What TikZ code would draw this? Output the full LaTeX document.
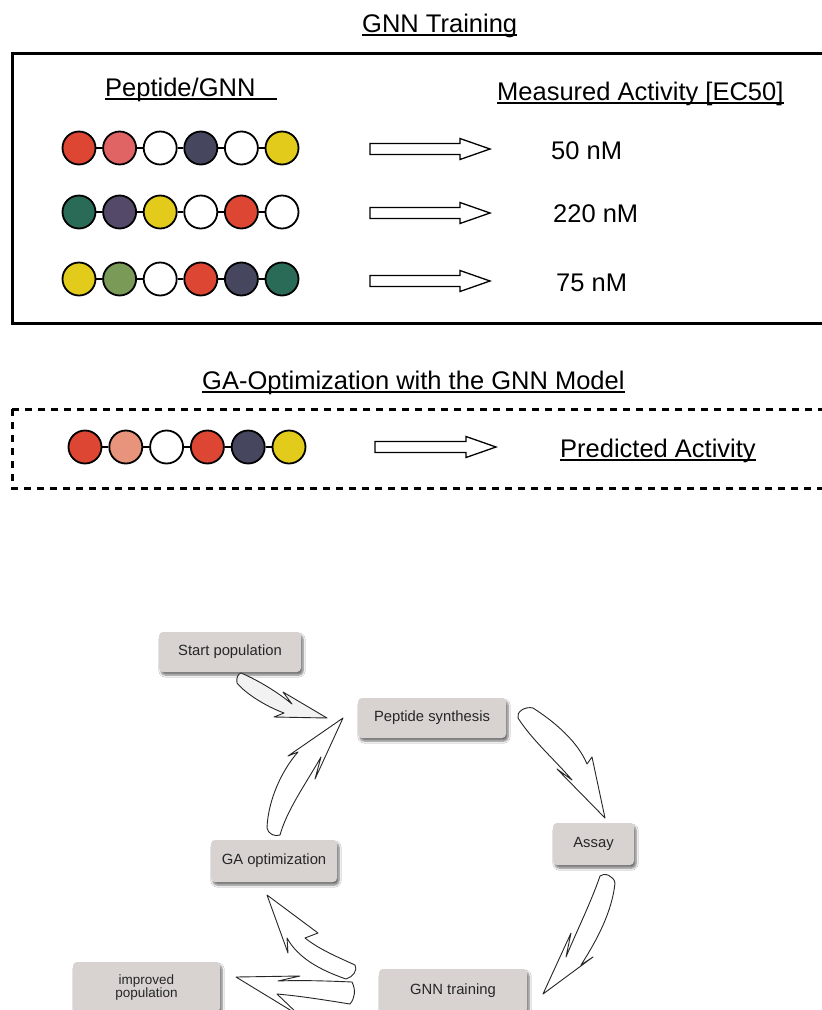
\documentclass[tikz,border=0pt]{standalone}
\usepackage{fontspec}
\setmainfont{Liberation Sans}
\usetikzlibrary{shadows.blur}
\definecolor{cred}{HTML}{DC4633}
\definecolor{cpink}{HTML}{E06464}
\definecolor{cnavy}{HTML}{46475F}
\definecolor{cyel}{HTML}{E3CB1C}
\definecolor{cteal}{HTML}{2A6B58}
\definecolor{cpurp}{HTML}{55496A}
\definecolor{colive}{HTML}{7A9A58}
\definecolor{csalm}{HTML}{E8937B}
\definecolor{boxgray}{RGB}{216,211,209}
\begin{document}
\begin{tikzpicture}[x=1pt,y=-1pt,
  ttl/.style={font=\fontsize{25.5}{30}\selectfont, inner sep=0pt, anchor=base west},
  uline/.style={line width=1.4pt},
  bead/.style={circle, draw=black, line width=1.8pt, minimum size=33pt, inner sep=0pt},
  link/.style={line width=1.6pt},
  blockarrow/.style={draw=black, line width=1.3pt, fill=white, line join=miter},
  pbox/.style={fill=boxgray, rounded corners=4pt, inner sep=0pt, text=black!85,
    font=\fontsize{14.8}{16}\selectfont, align=center,
    blur shadow={shadow xshift=2pt, shadow yshift=-3pt, shadow blur steps=6, shadow opacity=55}},
  carrow/.style={draw=black!85, line width=0.9pt, fill=white, line join=round}]
\useasboundingbox (0,0) rectangle (822,1010);
\clip (0,0) rectangle (822,1010);
\fill[white] (0,0) rectangle (822,1010);

% ---------- GNN Training ----------
\node[ttl] (t1) at (362,32) {GNN Training};
\draw[uline] ([yshift=-3pt]t1.base west) -- ([yshift=-3pt]t1.base east);
\draw[line width=3pt] (12,53) rectangle (840,323);

\node[ttl] (p) at (105,96) {Peptide/GNN};
\draw[uline] ([yshift=-3pt]p.base west) -- ([xshift=21pt,yshift=-3pt]p.base east);
\node[ttl] (m) at (497,100) {Measured Activity [EC50]};
\draw[uline] ([yshift=-3pt]m.base west) -- ([yshift=-3pt]m.base east);

% beads
\foreach \c [count=\i] in {cred,cpink,white,cnavy,white,cyel}
  \node[bead, fill=\c] (a\i) at ({79+(\i-1)*40.6},148) {};
\foreach \c [count=\i] in {cteal,cpurp,cyel,white,cred,white}
  \node[bead, fill=\c] (b\i) at ({79+(\i-1)*40.6},212) {};
\foreach \c [count=\i] in {cyel,colive,white,cred,cnavy,cteal}
  \node[bead, fill=\c] (c\i) at ({79+(\i-1)*40.6},279) {};
\foreach \c [count=\i] in {cred,csalm,white,cred,cnavy,cyel}
  \node[bead, fill=\c] (d\i) at ({85+(\i-1)*40.8},447) {};
\foreach \i [evaluate=\i as \j using int(\i+1)] in {1,...,5} {
  \draw[link] (a\i) -- (a\j);
  \draw[link] (b\i) -- (b\j);
  \draw[link] (c\i) -- (c\j);
  \draw[link] (d\i) -- (d\j);
}

% block arrows
\foreach \yy in {149,213,281}
  \draw[blockarrow, shift={(370,\yy)}] (0,-5.5) -- (90,-5.5) -- (90,-10.5) -- (120,0) -- (90,10.5) -- (90,5.5) -- (0,5.5) -- cycle;
\draw[blockarrow, shift={(375,447)}] (0,-5.5) -- (91,-5.5) -- (91,-10.5) -- (121,0) -- (91,10.5) -- (91,5.5) -- (0,5.5) -- cycle;

\node[ttl] (v1) at (551,159) {50 nM};
\node[ttl] (v2) at (553,222) {220 nM};
\node[ttl] (v3) at (556,291) {75 nM};

% ---------- GA optimization ----------
\node[ttl] (t2) at (202,389) {GA-Optimization with the GNN Model};
\draw[uline] ([yshift=-3pt]t2.base west) -- ([yshift=-3pt]t2.base east);
\draw[line width=3pt, dash pattern=on 7pt off 6pt] (12,409) rectangle (840,488);
\node[ttl] (pa) at (560,457) {Predicted Activity};
\draw[uline] ([yshift=-3pt]pa.base west) -- ([yshift=-3pt]pa.base east);

% ---------- cycle ----------
\node[pbox, minimum width=142pt, minimum height=40pt] (sp) at (230,652) {Start population};
\node[pbox, minimum width=148pt, minimum height=40pt] (ps) at (432,718) {Peptide synthesis};
\node[pbox, minimum width=81pt, minimum height=42pt] (as) at (593.5,844) {Assay};
\node[pbox, minimum width=126pt, minimum height=42pt] (ga) at (274,861) {GA optimization};
\node[pbox, minimum width=147pt, minimum height=50pt, font=\fontsize{13.5}{13}\selectfont] (ip) at (146.5,987) {improved\\population};
\node[pbox, minimum width=148pt, minimum height=44pt] (gt) at (453,991) {GNN training};

% Start -> Peptide
\draw[carrow, fill=black!5] (241,673) .. controls (260,681) and (280,694) .. (292,704) -- (283,692) -- (327,718) -- (274,717) -- (284,713) .. controls (265,706) and (245,693) .. (237,683) .. controls (236,678) and (238,674) .. cycle;
% GA -> Peptide
\draw[carrow] (343,718) -- (315,779) -- (321,757) .. controls (305,785) and (287,810) .. (280,835) .. controls (275,837) and (268,834) .. (267,828) .. controls (268,800) and (282,770) .. (298,752) -- (288,756) -- cycle;
% Peptide -> Assay
\draw[carrow] (533,708) .. controls (555,722) and (578,742) .. (587,764) -- (592,757) -- (605,818) -- (557,769) -- (572,780) .. controls (555,760) and (532,740) .. (518,718) .. controls (516,712) and (525,706) .. cycle;
% Assay -> GNN training
\draw[carrow] (543,994) -- (593,957) -- (581,965) .. controls (597,940) and (612,912) .. (615,883) .. controls (614,876) and (604,872) .. (600,876) .. controls (592,900) and (575,935) .. (566,957) -- (571,933) -- cycle;
% -> improved population
\draw[carrow] (236,977) -- (300,976) -- (278,981) .. controls (300,980) and (330,981) .. (352,982) .. controls (356,990) and (355,998) .. (350,1004) .. controls (325,1000) and (300,996) .. (277,994) -- (300,1016) -- cycle;
% GNN training -> GA optimization
\draw[carrow] (267,895) -- (318,933) -- (305,938) .. controls (320,950) and (340,958) .. (355,965) .. controls (358,970) and (353,977) .. (346,979) .. controls (320,970) and (298,958) .. (287,938) -- (288,953) -- cycle;
\end{tikzpicture}
\end{document}
